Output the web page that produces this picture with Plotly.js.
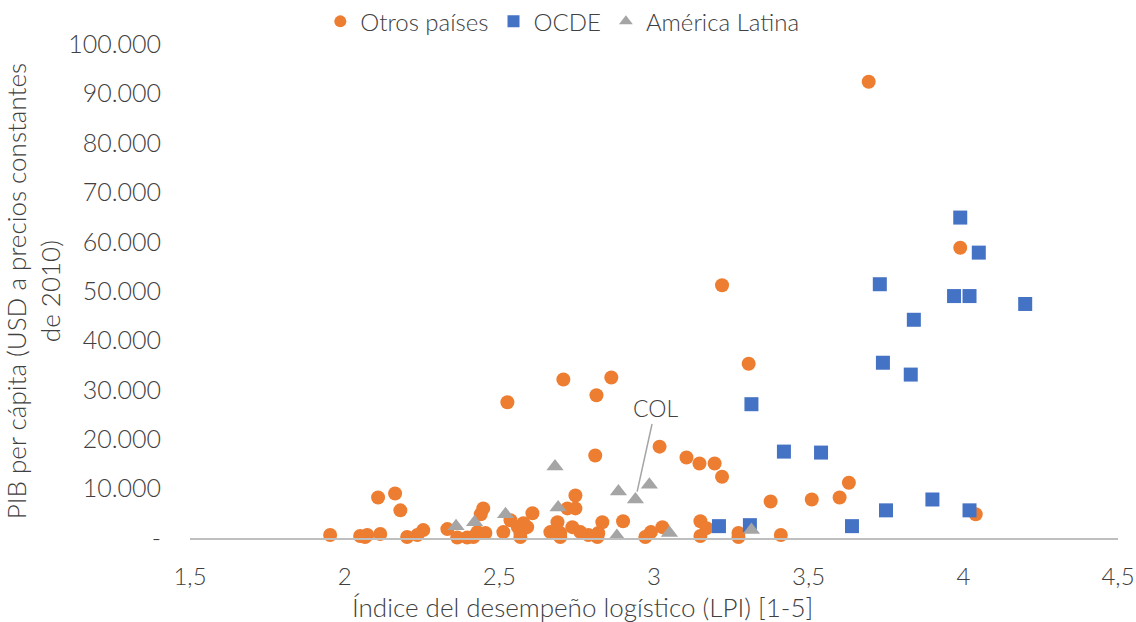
<!DOCTYPE html>
<html>
<head>
<meta charset="utf-8">
<script src="https://cdn.plot.ly/plotly-3.0.1.min.js"></script>
<style>html,body{margin:0;padding:0;background:#fff;}#chart{width:1136px;height:622px;}</style>
</head>
<body>
<div id="chart"></div>
<script>
// ---- Data ----
const seriesNames = ["Otros países", "OCDE", "América Latina"];

const otrosX = [3.694, 3.99, 3.22, 3.306, 2.707, 2.862, 2.814, 2.526, 2.81, 3.018,
  3.105, 3.147, 3.196, 3.22, 3.377, 3.51, 3.60, 3.63, 4.04, 3.15,
  3.15, 3.17, 3.027, 2.99, 2.972, 3.273, 3.273, 3.41, 2.90, 2.833,
  2.82, 2.817, 2.788, 2.762, 2.736, 2.746, 2.746, 2.72, 2.697, 2.697,
  2.688, 2.665, 2.607, 2.59, 2.578, 2.568, 2.568, 2.56, 2.536, 2.513,
  2.455, 2.429, 2.448, 2.44, 2.416, 2.396, 2.364, 2.332, 2.254, 2.235,
  2.202, 2.18, 2.163, 2.108, 2.115, 2.073, 2.066, 2.05, 1.953];
const otrosY = [92400, 58800, 51200, 35300, 32100, 32500, 28900, 27500, 16700, 18500,
  16300, 15100, 15100, 12400, 7400, 7800, 8200, 11200, 4800, 3400,
  400, 2000, 2200, 1200, 200, 1000, 200, 600, 3400, 3200,
  1000, 200, 600, 1200, 2200, 8600, 6000, 6000, 1000, 200,
  3200, 1200, 5000, 2200, 3000, 1000, 200, 2200, 3600, 1200,
  1000, 1200, 6000, 4800, 200, 100, 100, 1800, 1600, 600,
  200, 5600, 9000, 8200, 800, 600, 200, 400, 600];

const ocdeX = [3.99, 4.05, 3.73, 3.97, 4.02, 4.20, 3.84, 3.74, 3.83, 3.315,
  3.42, 3.54, 3.21, 3.31, 3.64, 3.75, 3.90, 4.02];
const ocdeY = [64900, 57800, 51400, 49000, 49000, 47400, 44200, 35500, 33100, 27100,
  17500, 17300, 2400, 2600, 2400, 5600, 7800, 5600];

const latamX = [2.36, 2.42, 2.52, 2.68, 2.69, 2.885, 2.985, 2.94, 2.88, 3.05, 3.315];
const latamY = [2400, 3200, 4800, 14500, 6200, 9400, 10800, 7800, 400, 1000, 1600];

const colLabel = "COL";
const colX = 2.94, colY = 7800;

const xTickVals = [1.5, 2, 2.5, 3, 3.5, 4, 4.5];
const xTickText = ["1,5", "2", "2,5", "3", "3,5", "4", "4,5"];
const yTickVals = [0, 10000, 20000, 30000, 40000, 50000, 60000, 70000, 80000, 90000, 100000];
const yTickText = ["-", "10.000", "20.000", "30.000", "40.000", "50.000", "60.000", "70.000", "80.000", "90.000", "100.000"];

const xTitle = "Índice del desempeño logístico (LPI) [1-5]";
const yTitle = "PIB per cápita (USD a precios constantes<br>de 2010)";

// ---- Chart ----
const FONT = "Lato, 'Open Sans', sans-serif";
const TXT = "#404040";

const traces = [
  {x: otrosX, y: otrosY, name: seriesNames[0], type: "scatter", mode: "markers",
   marker: {symbol: "circle", size: 14, color: "#ED7D31", line: {width: 0}}, cliponaxis: false},
  {x: ocdeX, y: ocdeY, name: seriesNames[1], type: "scatter", mode: "markers",
   marker: {symbol: "square", size: 14, color: "#4472C4", line: {width: 0}}, cliponaxis: false},
  {x: latamX, y: latamY, name: seriesNames[2], type: "scatter", mode: "markers",
   marker: {symbol: "triangle-up", size: 15, color: "#A5A5A5", line: {width: 0}}, cliponaxis: false}
];

const layout = {
  width: 1136, height: 622,
  margin: {l: 190, r: 18, t: 40, b: 84, pad: 0},
  paper_bgcolor: "#fff", plot_bgcolor: "#fff",
  font: {family: FONT, color: TXT, size: 22, weight: 300},
  showlegend: true,
  legend: {orientation: "h", xref: "container", yref: "container", x: 0.495, xanchor: "center",
           y: 0.965, yanchor: "middle", font: {size: 24, color: TXT, weight: 300}, itemsizing: "constant",
           traceorder: "normal"},
  xaxis: {range: [1.5, 4.5], tickvals: xTickVals, ticktext: xTickText, showgrid: false,
          zeroline: false, showline: true, linecolor: "#BFBFBF", linewidth: 2, ticks: "",
          ticklabelstandoff: 16, tickfont: {size: 24, color: TXT, weight: 300}},
  yaxis: {range: [0, 100000], tickvals: yTickVals, ticktext: yTickText, showgrid: false,
          zeroline: false, showline: false, ticks: "", ticklabelstandoff: 28,
          tickfont: {size: 25, color: TXT, weight: 300},
          title: {text: yTitle, font: {size: 26, color: TXT, weight: 300}, standoff: 0}},
  annotations: [
    {x: colX, y: colY, xref: "x", yref: "y", text: colLabel, showarrow: true, arrowhead: 0,
     arrowwidth: 1.5, arrowcolor: "#A5A5A5", ax: 20, ay: -91, standoff: 8,
     font: {size: 23, color: TXT, weight: 300}},
    {x: 0.4225, y: -0.139, xref: "paper", yref: "paper", xanchor: "center", yanchor: "middle",
     text: xTitle, showarrow: false, font: {size: 26, color: TXT, weight: 300}}
  ]
};

Plotly.newPlot("chart", traces, layout, {displayModeBar: false, responsive: false});
</script>
</body>
</html>
